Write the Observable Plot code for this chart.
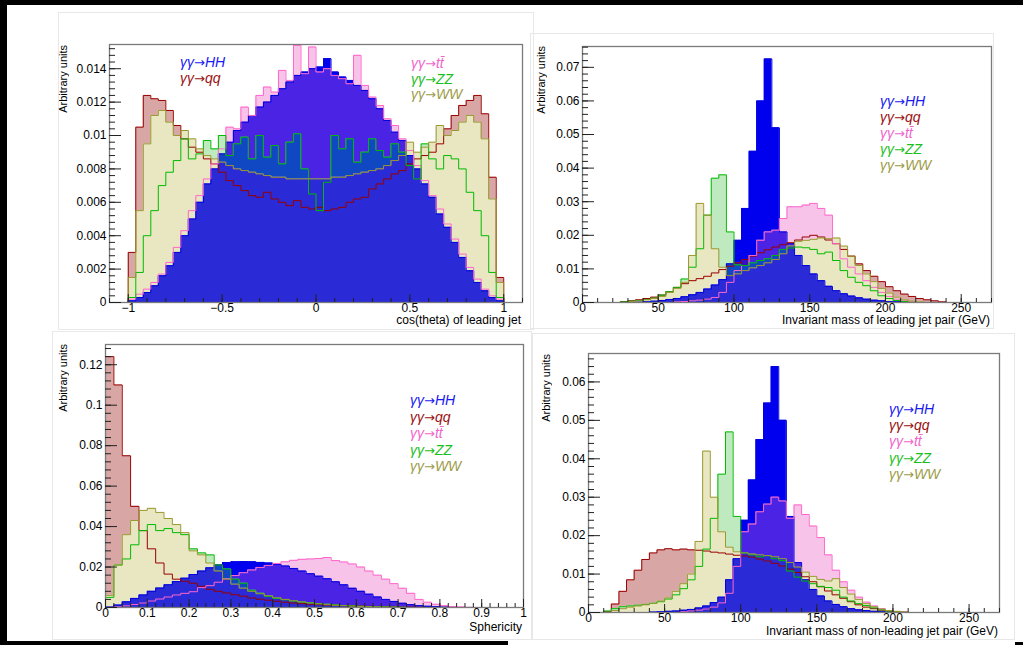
<!DOCTYPE html>
<html>
<head>
<meta charset="utf-8">
<script src="https://cdn.jsdelivr.net/npm/d3@7"></script>
<script src="https://cdn.jsdelivr.net/npm/@observablehq/plot@0.6"></script>
<style>
  body { margin: 0; background: #fff; }
  #root { position: relative; width: 1023px; height: 645px; background: #fff; overflow: hidden;
          font-family: "Liberation Sans", Arial, Helvetica, sans-serif; }
  .arrow { font-family: "DejaVu Sans", sans-serif; font-style: normal; font-size: 13px; }
</style>
</head>
<body>
<div id="root"></div>
<script>
// ---------------- DATA ----------------
const seriesKeys = ["HH", "qq", "tt", "ZZ", "WW"];
const seriesLabels = ["γγ→HH", "γγ→qq", "γγ→tt̄", "γγ→ZZ", "γγ→WW"];

// Panel 1: cos(theta) of leading jet, 50 bins of 0.04 from -1 to 1
const cosStart = -1, cosWidth = 0.04;
const cosHH = [0.0001,0.0003,0.0006,0.0010,0.0016,0.0022,0.0030,0.0040,0.0050,0.0060,
  0.0071,0.0080,0.0089,0.0096,0.0103,0.0108,0.0112,0.0117,0.0120,0.0124,
  0.0128,0.0132,0.0136,0.0138,0.0140,0.0141,0.0146,0.0138,0.0135,0.0133,
  0.0130,0.0127,0.0122,0.0116,0.0109,0.0102,0.0097,0.0088,0.0080,0.0071,
  0.0063,0.0053,0.0045,0.0036,0.0027,0.0019,0.0012,0.0007,0.0003,0.0001];
const cosQQ = [0.0030,0.0105,0.0124,0.0122,0.0121,0.0115,0.0106,0.0098,0.0093,0.0090,
  0.0086,0.0083,0.0078,0.0073,0.0070,0.0067,0.0064,0.0063,0.0066,0.0062,
  0.0060,0.0058,0.0061,0.0057,0.0056,0.0057,0.0055,0.0056,0.0057,0.0060,
  0.0062,0.0063,0.0068,0.0071,0.0074,0.0077,0.0079,0.0083,0.0086,0.0088,
  0.0090,0.0095,0.0104,0.0112,0.0118,0.0121,0.0124,0.0113,0.0075,0.0015];
const cosTT = [0.0002,0.0005,0.0008,0.0012,0.0017,0.0024,0.0033,0.0043,0.0055,0.0064,
  0.0074,0.0083,0.0092,0.0105,0.0104,0.0117,0.0112,0.0124,0.0129,0.0126,
  0.0139,0.0133,0.0154,0.0137,0.0153,0.0138,0.0140,0.0136,0.0134,0.0131,
  0.0148,0.0130,0.0123,0.0118,0.0110,0.0106,0.0098,0.0091,0.0082,0.0073,
  0.0064,0.0056,0.0047,0.0038,0.0029,0.0021,0.0014,0.0008,0.0004,0.0002];
const cosZZ = [0.0003,0.0018,0.0040,0.0055,0.0070,0.0078,0.0085,0.0098,0.0086,0.0089,
  0.0097,0.0092,0.0100,0.0088,0.0095,0.0099,0.0086,0.0100,0.0087,0.0094,
  0.0083,0.0096,0.0101,0.0080,0.0065,0.0055,0.0072,0.0100,0.0092,0.0098,
  0.0084,0.0090,0.0098,0.0091,0.0087,0.0095,0.0090,0.0082,0.0074,0.0095,
  0.0086,0.0080,0.0088,0.0086,0.0080,0.0066,0.0055,0.0040,0.0018,0.0003];
const cosWW = [0.0015,0.0055,0.0095,0.0112,0.0115,0.0108,0.0100,0.0103,0.0098,0.0092,
  0.0088,0.0086,0.0084,0.0082,0.0080,0.0079,0.0078,0.0077,0.0076,0.0075,
  0.0075,0.0074,0.0074,0.0074,0.0074,0.0074,0.0074,0.0075,0.0075,0.0076,
  0.0077,0.0078,0.0079,0.0080,0.0082,0.0085,0.0088,0.0096,0.0090,0.0093,
  0.0096,0.0106,0.0100,0.0103,0.0108,0.0112,0.0108,0.0098,0.0062,0.0012];
const cosXTicks = [-1, -0.5, 0, 0.5, 1];
const cosYTicks = [0, 0.002, 0.004, 0.006, 0.008, 0.01, 0.012, 0.014];

// Panel 2: invariant mass of leading jet pair, 54 bins of 5 GeV from 0 to 270
const m1Start = 0, m1Width = 5;
const m1HH = [0,0,0,0,0,0,0,0.0001,0.0002,0.0004,0.0006,0.0009,0.0012,0.0017,0.0023,0.0030,0.0040,0.0052,0.0068,0.0115,
  0.0185,0.0280,0.0450,0.0600,0.0725,0.0520,0.0210,0.0175,0.0140,0.0110,0.0085,0.0065,0.0048,0.0035,0.0026,0.0019,0.0014,0.0010,0.0007,0.0005,
  0.0003,0.0002,0.0001,0,0,0,0,0,0,0,0,0,0,0];
const m1QQ = [0,0,0,0,0,0.0003,0.0005,0.0008,0.0012,0.0016,0.0022,0.0032,0.0045,0.0056,0.0065,0.0071,0.0078,0.0088,0.0098,0.0108,
  0.0118,0.0128,0.0138,0.0148,0.0157,0.0165,0.0172,0.0178,0.0186,0.0195,0.0200,0.0195,0.0186,0.0175,0.0158,0.0138,0.0115,0.0095,0.0078,0.0062,
  0.0047,0.0035,0.0025,0.0018,0.0012,0.0008,0.0005,0.0002,0,0,0,0,0,0];
const m1TT = [0,0,0,0,0,0,0,0,0,0,0,0,0.0002,0.0003,0.0005,0.0007,0.0010,0.0015,0.0030,0.0060,
  0.0095,0.0110,0.0140,0.0185,0.0210,0.0215,0.0250,0.0285,0.0285,0.0290,0.0295,0.0280,0.0260,0.0175,0.0130,0.0105,0.0085,0.0065,0.0045,0.0030,
  0.0018,0.0010,0.0005,0.0002,0,0,0,0,0,0,0,0,0,0];
const m1ZZ = [0,0,0,0,0,0.0002,0.0004,0.0006,0.0009,0.0013,0.0022,0.0032,0.0045,0.0070,0.0105,0.0160,0.0260,0.0370,0.0380,0.0210,
  0.0112,0.0110,0.0118,0.0125,0.0130,0.0140,0.0158,0.0162,0.0165,0.0163,0.0158,0.0145,0.0150,0.0125,0.0095,0.0075,0.0060,0.0050,0.0035,0.0020,
  0.0012,0.0006,0.0003,0,0,0,0,0,0,0,0,0,0,0];
const m1WW = [0,0,0,0,0,0,0.0003,0.0005,0.0008,0.0012,0.0018,0.0030,0.0042,0.0060,0.0140,0.0295,0.0260,0.0160,0.0105,0.0080,
  0.0085,0.0095,0.0103,0.0110,0.0118,0.0128,0.0145,0.0168,0.0182,0.0185,0.0188,0.0192,0.0190,0.0192,0.0168,0.0138,0.0110,0.0085,0.0062,0.0042,
  0.0028,0.0016,0.0008,0.0004,0.0002,0,0,0,0,0,0,0,0,0];
const m1XTicks = [0, 50, 100, 150, 200, 250];
const m1YTicks = [0, 0.01, 0.02, 0.03, 0.04, 0.05, 0.06, 0.07];

// Panel 3: sphericity, 50 bins of 0.02 from 0 to 1
const sphStart = 0, sphWidth = 0.02;
const sphHH = [0.0002,0.0012,0.0028,0.0045,0.0062,0.0080,0.0096,0.0112,0.0128,0.0145,
  0.0163,0.0180,0.0196,0.0210,0.0222,0.0226,0.0227,0.0226,0.0223,0.0220,
  0.0214,0.0205,0.0193,0.0180,0.0167,0.0155,0.0142,0.0127,0.0112,0.0095,
  0.0080,0.0066,0.0052,0.0040,0.0030,0.0021,0.0014,0.0009,0.0006,0.0004,
  0.0002,0.0001,0,0,0,0,0,0,0,0];
const sphQQ = [0.124,0.110,0.075,0.050,0.038,0.029,0.022,0.0165,0.014,0.013,
  0.012,0.0105,0.009,0.008,0.0072,0.0063,0.0056,0.0047,0.0041,0.0036,
  0.0031,0.0026,0.0022,0.0019,0.0016,0.0014,0.0012,0.0010,0.0009,0.0008,
  0.0007,0.0006,0.0005,0.0004,0.0003,0.0002,0.0002,0.0001,0,0,
  0,0,0,0,0,0,0,0,0,0];
const sphTT = [0,0.0003,0.0008,0.0015,0.0022,0.0032,0.0042,0.0052,0.0062,0.0070,
  0.0078,0.0098,0.0108,0.0125,0.0142,0.0158,0.0172,0.0185,0.0198,0.0208,
  0.0218,0.0226,0.0233,0.0238,0.0240,0.0242,0.0247,0.0232,0.0225,0.0215,
  0.0200,0.0180,0.0160,0.0140,0.0118,0.0095,0.0070,0.0040,0.0026,0.0016,
  0.0009,0.0005,0.0003,0.0001,0,0,0,0,0,0];
const sphZZ = [0.005,0.021,0.024,0.031,0.038,0.041,0.038,0.039,0.037,0.036,
  0.029,0.027,0.026,0.021,0.019,0.014,0.012,0.0085,0.0070,0.0055,
  0.0045,0.0038,0.0032,0.0027,0.0023,0.0019,0.0016,0.0013,0.0010,0.0008,
  0.0006,0.0005,0.0004,0.0003,0.0002,0.0001,0,0,0,0,
  0,0,0,0,0,0,0,0,0,0];
const sphWW = [0.006,0.021,0.036,0.043,0.048,0.049,0.047,0.044,0.041,0.037,
  0.028,0.026,0.022,0.018,0.014,0.0115,0.0095,0.008,0.0068,0.0058,
  0.0048,0.0040,0.0033,0.0027,0.0022,0.0018,0.0014,0.0011,0.0009,0.0007,
  0.0005,0.0004,0.0003,0.0002,0.0001,0,0,0,0,0,
  0,0,0,0,0,0,0,0,0,0];
const sphXTicks = [0, 0.1, 0.2, 0.3, 0.4, 0.5, 0.6, 0.7, 0.8, 0.9, 1];
const sphYTicks = [0, 0.02, 0.04, 0.06, 0.08, 0.1, 0.12];

// Panel 4: invariant mass of non-leading jet pair, 54 bins of 5 GeV from 0 to 270
const m2Start = 0, m2Width = 5;
const m2HH = [0,0,0,0,0,0,0,0,0.0001,0.0002,0.0003,0.0004,0.0006,0.0008,0.0012,0.0017,0.0026,0.0040,0.0085,0.0140,
  0.0240,0.0345,0.0450,0.0545,0.0640,0.0500,0.0250,0.0130,0.0085,0.0060,0.0043,0.0030,0.0021,0.0015,0.0010,0.0007,0.0005,0.0003,0.0002,0.0001,
  0,0,0,0,0,0,0,0,0,0,0,0,0,0];
const m2QQ = [0,0,0.0002,0.0022,0.0055,0.0085,0.0110,0.0138,0.0155,0.0163,0.0166,0.0163,0.0165,0.0163,0.0162,0.0160,0.0157,0.0155,0.0152,0.0149,
  0.0147,0.0144,0.0139,0.0134,0.0128,0.0121,0.0113,0.0104,0.0093,0.0080,0.0067,0.0056,0.0046,0.0037,0.0028,0.0020,0.0014,0.0010,0.0006,0.0004,
  0.0002,0.0001,0,0,0,0,0,0,0,0,0,0,0,0];
const m2TT = [0,0,0,0,0,0,0,0,0,0,0,0,0.0002,0.0004,0.0006,0.0009,0.0014,0.0025,0.0050,0.0120,
  0.0210,0.0230,0.0262,0.0282,0.0300,0.0290,0.0245,0.0280,0.0255,0.0225,0.0195,0.0150,0.0110,0.0080,0.0058,0.0040,0.0027,0.0017,0.0010,0.0005,
  0.0002,0,0,0,0,0,0,0,0,0,0,0,0,0];
const m2ZZ = [0,0,0.0004,0.0010,0.0015,0.0017,0.0019,0.0021,0.0024,0.0028,0.0035,0.0046,0.0062,0.0085,0.0120,0.0165,0.0245,0.0360,0.0470,0.0250,
  0.0155,0.0150,0.0145,0.0148,0.0140,0.0135,0.0108,0.0092,0.0082,0.0075,0.0068,0.0065,0.0058,0.0040,0.0030,0.0023,0.0018,0.0012,0.0007,0.0004,
  0.0002,0,0,0,0,0,0,0,0,0,0,0,0,0];
const m2WW = [0,0,0,0.0005,0.0010,0.0014,0.0017,0.0020,0.0024,0.0030,0.0038,0.0055,0.0075,0.0100,0.0185,0.0420,0.0300,0.0210,0.0170,0.0158,
  0.0155,0.0152,0.0150,0.0148,0.0145,0.0140,0.0130,0.0118,0.0105,0.0094,0.0086,0.0082,0.0088,0.0065,0.0048,0.0034,0.0023,0.0015,0.0009,0.0005,
  0.0003,0.0001,0,0,0,0,0,0,0,0,0,0,0,0];
const m2XTicks = [0, 50, 100, 150, 200, 250];
const m2YTicks = [0, 0.01, 0.02, 0.03, 0.04, 0.05, 0.06];

const xTitles = ["cos(theta) of leading jet", "Invariant mass of leading jet pair (GeV)",
                 "Sphericity", "Invariant mass of non-leading jet pair (GeV)"];
const yTitle = "Arbitrary units";

// ---------------- STYLE ----------------
const strokeColors = {HH: "#0000e0", qq: "#990000", tt: "#ff66cc", ZZ: "#00bb00", WW: "#999933"};
// look of ROOT's dotted fill: over white paper, and over the solid blue HH fill
const fillOverWhite = {qq: "#d9a6a6", tt: "#f7c3e8", ZZ: "#bfe9bf", WW: "#e8e7c2"};
const fillOverBlue = {qq: "#3410c0", tt: "#4b23e4", ZZ: "#1048c4", WW: "#2a2ad6"};
const textColors = {HH: "#1818f0", qq: "#9a1010", tt: "#f066cc", ZZ: "#1cc01c", WW: "#9c9c48"};
const FONT = '"Liberation Sans", Arial, Helvetica, sans-serif';

const panels = [
  { svg: {left: 8, top: 6, width: 525, height: 326}, frame: {l: 109, r: 522, t: 44, b: 302},
    xd: [-1.1, 1.1], yd: [0, 0.01545], start: cosStart, bw: cosWidth,
    data: {HH: cosHH, qq: cosQQ, tt: cosTT, ZZ: cosZZ, WW: cosWW},
    xTicks: cosXTicks, xMinor: 0.1, yTicks: cosYTicks, yMinor: 0.0004,
    xTitle: xTitles[0], xTitlePos: {right: 521, cy: 320.5}, yTitlePos: {cx: 63, top: 45},
    legend: [{keys: [0, 1], left: 180, cy: 62}, {keys: [2, 3, 4], left: 411, cy: 63}], legStep: 15.5 },
  { svg: {left: 533, top: 6, width: 480, height: 326}, frame: {l: 582, r: 991, t: 46, b: 302},
    xd: [0, 270], yd: [0, 0.0762], start: m1Start, bw: m1Width,
    data: {HH: m1HH, qq: m1QQ, tt: m1TT, ZZ: m1ZZ, WW: m1WW},
    xTicks: m1XTicks, xMinor: 10, yTicks: m1YTicks, yMinor: 0.002,
    xTitle: xTitles[1], xTitlePos: {right: 990, cy: 320.5}, yTitlePos: {cx: 541, top: 46},
    legend: [{keys: [0, 1, 2, 3, 4], left: 880, cy: 100.5}], legStep: 16 },
  { svg: {left: 8, top: 332, width: 525, height: 308}, frame: {l: 105, r: 523, t: 344, b: 607},
    xd: [0, 1], yd: [0, 0.13], start: sphStart, bw: sphWidth,
    data: {HH: sphHH, qq: sphQQ, tt: sphTT, ZZ: sphZZ, WW: sphWW},
    xTicks: sphXTicks, xMinor: 0.02, yTicks: sphYTicks, yMinor: 0.004,
    xTitle: xTitles[2], xTitlePos: {right: 522, cy: 627}, yTitlePos: {cx: 63, top: 344},
    legend: [{keys: [0, 1, 2, 3, 4], left: 410, cy: 400}], legStep: 16.6 },
  { svg: {left: 533, top: 332, width: 480, height: 308}, frame: {l: 588, r: 999, t: 353, b: 612},
    xd: [0, 270], yd: [0, 0.0674], start: m2Start, bw: m2Width,
    data: {HH: m2HH, qq: m2QQ, tt: m2TT, ZZ: m2ZZ, WW: m2WW},
    xTicks: m2XTicks, xMinor: 10, yTicks: m2YTicks, yMinor: 0.002,
    xTitle: xTitles[3], xTitlePos: {right: 998, cy: 631.5}, yTitlePos: {cx: 546, top: 354},
    legend: [{keys: [0, 1, 2, 3, 4], left: 889, cy: 409}], legStep: 16.2 }
];

const cards = [
  {left: 58, top: 12, width: 476, height: 318},
  {left: 530, top: 33, width: 464, height: 296},
  {left: 52, top: 331, width: 480, height: 309},
  {left: 532, top: 333, width: 483, height: 307}
];

// ---------------- HELPERS ----------------
const root = document.getElementById("root");
function place(el, css) {
  Object.assign(el.style, {position: "absolute"}, css);
  root.appendChild(el);
  return el;
}
function stepPoints(vals, x0, w) {
  const pts = [{x: x0, y: 0}];
  vals.forEach((v, i) => pts.push({x: x0 + i * w, y: v}));
  pts.push({x: x0 + vals.length * w, y: vals[vals.length - 1]});
  pts.push({x: x0 + vals.length * w, y: 0});
  return pts;
}
const fmt = d => d === 0 ? "0" : d3.format("~g")(+d.toPrecision(6));
function minorRange(lo, hi, step) {
  const out = [];
  const n0 = Math.ceil(lo / step - 1e-9), n1 = Math.floor(hi / step + 1e-9);
  for (let n = n0; n <= n1; n++) out.push(+(n * step).toPrecision(8));
  return out;
}

for (const c of cards) {
  place(document.createElement("div"), {left: c.left + "px", top: c.top + "px", width: c.width + "px",
    height: c.height + "px", border: "1px solid #e8e8e8", boxSizing: "border-box"});
}

// ---------------- PLOTS ----------------
panels.forEach((p, pi) => {
  const fw = p.frame.r - p.frame.l, fh = p.frame.b - p.frame.t;
  const pxX = (p.xd[1] - p.xd[0]) / fw, pxY = (p.yd[1] - p.yd[0]) / fh;
  const marks = [];
  const step = {x: "x", y: "y", curve: "step-after"};
  // fills: solid HH first, then the patterned ones; the last drawn pattern wins where they overlap
  marks.push(Plot.areaY(stepPoints(p.data.HH, p.start, p.bw), {...step, fill: "#0000ee"}));
  for (const k of seriesKeys.slice(1)) {
    const vals = p.data[k];
    const overlap = vals.map((v, i) => Math.min(v, p.data.HH[i]));
    marks.push(Plot.areaY(stepPoints(vals, p.start, p.bw), {...step, fill: fillOverWhite[k]}));
    marks.push(Plot.areaY(stepPoints(overlap, p.start, p.bw), {...step, fill: fillOverBlue[k]}));
  }
  // outlines on top
  for (const k of seriesKeys) {
    marks.push(Plot.lineY(stepPoints(p.data[k], p.start, p.bw), {...step, stroke: strokeColors[k], strokeWidth: 1}));
  }
  marks.push(Plot.frame({stroke: "#7a7a7a", strokeWidth: 1.3}));
  const yMinorTicks = minorRange(p.yd[0], p.yd[1], p.yMinor);
  const xMinorTicks = minorRange(p.xd[0], p.xd[1], p.xMinor);
  marks.push(Plot.ruleY(yMinorTicks, {y: d => d, x1: () => p.xd[0], x2: () => p.xd[0] + 6 * pxX, stroke: "#222", strokeWidth: 1}));
  marks.push(Plot.ruleY(p.yTicks, {y: d => d, x1: () => p.xd[0], x2: () => p.xd[0] + 12 * pxX, stroke: "#222", strokeWidth: 1}));
  marks.push(Plot.ruleX(xMinorTicks, {x: d => d, y1: () => p.yd[0], y2: () => p.yd[0] + 4 * pxY, stroke: "#222", strokeWidth: 1}));
  marks.push(Plot.ruleX(p.xTicks, {x: d => d, y1: () => p.yd[0], y2: () => p.yd[0] + 8 * pxY, stroke: "#222", strokeWidth: 1}));
  marks.push(Plot.axisY({ticks: p.yTicks, tickSize: 0, tickPadding: 3, tickFormat: fmt, label: null, fontSize: 12}));
  marks.push(Plot.axisX({ticks: p.xTicks, tickSize: 0, tickPadding: 1, tickFormat: fmt, label: null, fontSize: 12}));

  const svg = Plot.plot({
    width: p.svg.width, height: p.svg.height,
    marginLeft: p.frame.l - p.svg.left, marginRight: p.svg.left + p.svg.width - p.frame.r,
    marginTop: p.frame.t - p.svg.top, marginBottom: p.svg.top + p.svg.height - p.frame.b,
    x: {domain: p.xd}, y: {domain: p.yd},
    style: {fontFamily: FONT, fontSize: "12px", background: "transparent", color: "#000", overflow: "visible"},
    marks
  });
  place(svg, {left: p.svg.left + "px", top: p.svg.top + "px"});

  const xt = document.createElement("div");
  xt.textContent = p.xTitle;
  place(xt, {left: (p.xTitlePos.right - 400) + "px", width: "400px", textAlign: "right",
    top: (p.xTitlePos.cy - 5.5) + "px", lineHeight: "11px", fontSize: "12px", color: "#000", whiteSpace: "nowrap"});
  const yt = document.createElement("div");
  yt.textContent = yTitle;
  place(yt, {left: (p.yTitlePos.cx - 7) + "px", top: p.yTitlePos.top + "px", width: "14px", lineHeight: "14px",
    fontSize: "11px", color: "#000", writingMode: "vertical-rl", transform: "rotate(180deg)", whiteSpace: "nowrap"});

  for (const g of p.legend) {
    g.keys.forEach((si, j) => {
      const d = document.createElement("div");
      const [a, b] = seriesLabels[si].split("→");
      const s1 = document.createElement("span"); s1.textContent = a;
      const s2 = document.createElement("span"); s2.textContent = "→"; s2.className = "arrow";
      const s3 = document.createElement("span"); s3.textContent = b;
      d.append(s1, s2, s3);
      place(d, {left: g.left + "px", top: (g.cy + j * p.legStep - 8) + "px", lineHeight: "16px",
        fontSize: "14px", fontStyle: "italic", color: textColors[seriesKeys[si]], whiteSpace: "nowrap"});
    });
  }
});

// outer black frame
place(document.createElement("div"), {left: "0px", top: "0px", width: "1023px", height: "5px", background: "#000"});
place(document.createElement("div"), {left: "0px", top: "0px", width: "7px", height: "645px", background: "#000"});
place(document.createElement("div"), {left: "0px", top: "641px", width: "508px", height: "4px", background: "#000"});
place(document.createElement("div"), {left: "1015px", top: "642px", width: "8px", height: "3px", background: "#000"});
</script>
</body>
</html>
